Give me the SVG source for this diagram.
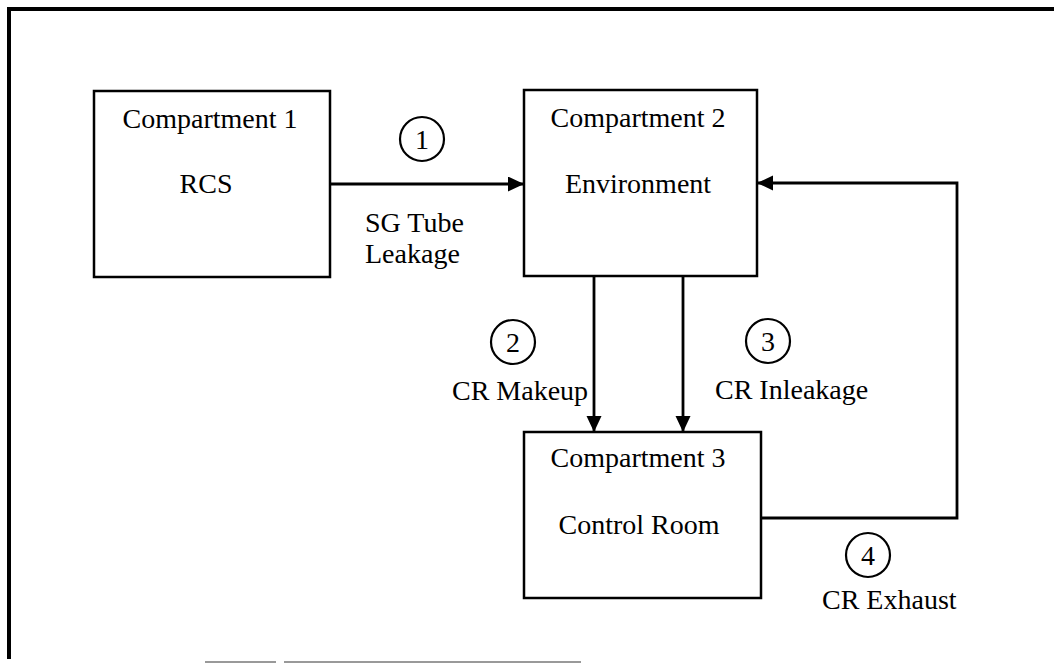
<svg xmlns="http://www.w3.org/2000/svg" width="1054" height="664" viewBox="0 0 1054 664">
<defs>
<style>
.box{fill:#fff;stroke:#000;stroke-width:2.5}
.lbl{font-family:"Liberation Serif","Times New Roman",serif;font-size:28px;fill:#000}
.mid{text-anchor:middle}
.num{fill:none;stroke:#000;stroke-width:2.2}
.conn{fill:none;stroke:#000;stroke-width:2.8}
</style>
<marker id="arr" markerUnits="userSpaceOnUse" markerWidth="18" markerHeight="16" refX="16" refY="7.5" orient="auto">
<path d="M0,0 L16,7.5 L0,15 Z" fill="#000"/>
</marker>
</defs>
<rect width="1054" height="664" fill="#fff"/>
<path d="M9,659 V9 H1054" fill="none" stroke="#000" stroke-width="4"/>
<g id="scan-artifacts" fill="#999">
<rect x="205" y="661" width="71" height="2"/>
<rect x="284" y="661" width="297" height="2"/>
</g>

<g id="connectors">
<path class="conn" d="M330,184 H524" marker-end="url(#arr)"/>
<path class="conn" d="M594,276 V432" marker-end="url(#arr)"/>
<path class="conn" d="M683,276 V432" marker-end="url(#arr)"/>
<path class="conn" d="M761,518 H957 V183 H757" marker-end="url(#arr)"/>
</g>

<g id="node-compartment1">
<rect class="box" x="94" y="91" width="236" height="186"/>
<text class="lbl mid" x="210" y="128">Compartment 1</text>
<text class="lbl mid" x="206" y="193">RCS</text>
</g>

<g id="node-compartment2">
<rect class="box" x="524" y="90" width="233" height="186"/>
<text class="lbl mid" x="638" y="127">Compartment 2</text>
<text class="lbl mid" x="638" y="193">Environment</text>
</g>

<g id="node-compartment3">
<rect class="box" x="524" y="432" width="237" height="166"/>
<text class="lbl mid" x="638" y="467">Compartment 3</text>
<text class="lbl mid" x="639" y="534">Control Room</text>
</g>

<g id="label-1">
<circle class="num" cx="422" cy="139" r="22"/>
<text class="lbl mid" x="422" y="149">1</text>
<text class="lbl" x="365" y="232">SG Tube</text>
<text class="lbl" x="365" y="263">Leakage</text>
</g>

<g id="label-2">
<circle class="num" cx="513" cy="342" r="22"/>
<text class="lbl mid" x="513" y="352">2</text>
<text class="lbl" x="452" y="400">CR Makeup</text>
</g>

<g id="label-3">
<circle class="num" cx="768" cy="341" r="22"/>
<text class="lbl mid" x="768" y="351">3</text>
<text class="lbl" x="715" y="399">CR Inleakage</text>
</g>

<g id="label-4">
<circle class="num" cx="868" cy="555" r="22"/>
<text class="lbl mid" x="868" y="565">4</text>
<text class="lbl" x="822" y="609">CR Exhaust</text>
</g>
</svg>
